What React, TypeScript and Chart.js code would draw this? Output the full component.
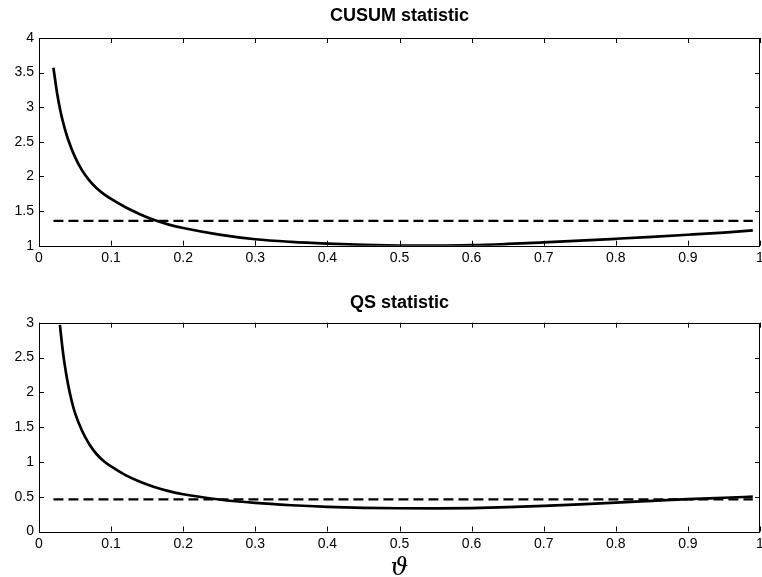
import React, { useEffect, useRef } from "react";
import { Chart, registerables } from "chart.js";

Chart.register(...registerables);

// ---- data ----
const cusumTitle = "CUSUM statistic";
const cusumTheta = [0.02, 0.025, 0.03, 0.035, 0.04, 0.05, 0.06, 0.07, 0.08, 0.09, 0.1, 0.12, 0.14, 0.16, 0.18, 0.2, 0.25, 0.3, 0.35, 0.4, 0.45, 0.5, 0.55, 0.6, 0.65, 0.7, 0.75, 0.8, 0.85, 0.9, 0.95, 0.99];
const cusumValues = [3.57, 3.21, 2.93, 2.72, 2.545, 2.28, 2.085, 1.94, 1.83, 1.745, 1.675, 1.555, 1.455, 1.37, 1.305, 1.255, 1.16, 1.093, 1.055, 1.03, 1.012, 1.002, 1.0, 1.007, 1.025, 1.048, 1.073, 1.1, 1.128, 1.158, 1.19, 1.22];
const cusumCritical = 1.358;

const qsTitle = "QS statistic";
const qsTheta = [0.029, 0.032, 0.035, 0.04, 0.045, 0.05, 0.06, 0.07, 0.08, 0.09, 0.1, 0.12, 0.14, 0.16, 0.18, 0.2, 0.25, 0.3, 0.35, 0.4, 0.45, 0.5, 0.55, 0.6, 0.65, 0.7, 0.75, 0.8, 0.85, 0.9, 0.95, 0.99];
const qsValues = [2.97, 2.68, 2.44, 2.13, 1.89, 1.7, 1.44, 1.25, 1.11, 1.01, 0.935, 0.81, 0.715, 0.64, 0.58, 0.535, 0.46, 0.41, 0.377, 0.354, 0.34, 0.334, 0.333, 0.337, 0.35, 0.368, 0.39, 0.414, 0.44, 0.465, 0.485, 0.5];
const qsCritical = 0.461;

const criticalThetaRange = [0.02, 0.99];
const xAxisRange = [0, 1];
const xTickStep = 0.1;
const cusumYRange = [1, 4];
const qsYRange = [0, 3];
const yTickStep = 0.5;
const xAxisLabel = "\u03D1";

const SANS = "'Liberation Sans', Arial, Helvetica, sans-serif";
const SERIF = "'DejaVu Serif', 'Liberation Serif', serif";

const fmt = (v: any) => String(Math.round(Number(v) * 100) / 100);

const frameAndTicks = {
  id: "frameAndTicks",
  afterDatasetsDraw(chart: any) {
    const { ctx, chartArea } = chart;
    const { left, right, top, bottom } = chartArea;
    const tl = 5;
    ctx.save();
    ctx.strokeStyle = "#000";
    ctx.lineWidth = 1;
    ctx.beginPath();
    const xs = chart.scales.x;
    xs.ticks.forEach((t: any) => {
      const p = Math.round(xs.getPixelForValue(t.value)) + 0.5;
      ctx.moveTo(p, bottom);
      ctx.lineTo(p, bottom - tl);
      ctx.moveTo(p, top);
      ctx.lineTo(p, top + tl);
    });
    const ys = chart.scales.y;
    ys.ticks.forEach((t: any) => {
      const p = Math.round(ys.getPixelForValue(t.value)) + 0.5;
      ctx.moveTo(left, p);
      ctx.lineTo(left + tl, p);
      ctx.moveTo(right, p);
      ctx.lineTo(right - tl, p);
    });
    ctx.stroke();
    ctx.strokeRect(Math.round(left) + 0.5, Math.round(top) + 0.5, Math.round(right - left) - 1, Math.round(bottom - top));
    ctx.restore();
  },
};

type PanelProps = {
  top: number;
  height: number;
  title: string;
  titlePadTop: number;
  titlePadBottom: number;
  theta: number[];
  values: number[];
  critical: number;
  yRange: number[];
  xScaleHeight: number;
  xTitle?: string;
};

function Panel(p: PanelProps) {
  const ref = useRef<HTMLCanvasElement>(null);
  useEffect(() => {
    if (!ref.current) return;
    const chart = new Chart(ref.current, {
      type: "line",
      data: {
        datasets: [
          {
            data: p.theta.map((x, i) => ({ x, y: p.values[i] })),
            borderColor: "#000",
            borderWidth: 2.7,
            pointRadius: 0,
            cubicInterpolationMode: "monotone",
            fill: false,
          },
          {
            data: criticalThetaRange.map((x) => ({ x, y: p.critical })),
            borderColor: "#000",
            borderWidth: 2.2,
            borderDash: [10, 5],
            pointRadius: 0,
            fill: false,
          },
        ],
      },
      options: {
        responsive: false,
        animation: false,
        events: [],
        layout: { padding: { left: 0, right: 2, top: 0, bottom: 0 } },
        plugins: {
          legend: { display: false },
          tooltip: { enabled: false },
          title: {
            display: true,
            text: p.title,
            fullSize: false,
            color: "#000",
            font: { family: SANS, size: 18, weight: "bold", lineHeight: 1.2 },
            padding: { top: p.titlePadTop, bottom: p.titlePadBottom },
          },
        },
        scales: {
          x: {
            type: "linear",
            min: xAxisRange[0],
            max: xAxisRange[1],
            grid: { display: false, drawTicks: false, drawOnChartArea: false },
            border: { display: false },
            ticks: {
              stepSize: xTickStep,
              color: "#000",
              font: { family: SANS, size: 14, lineHeight: 1.2 },
              padding: 4.5,
              maxRotation: 0,
              autoSkip: false,
              callback: fmt,
            },
            title: p.xTitle
              ? {
                  display: true,
                  text: p.xTitle,
                  color: "#000",
                  font: { family: SERIF, size: 25, style: "italic", lineHeight: 1.2 },
                  padding: { top: 0, bottom: 7 },
                }
              : { display: false },
            afterFit: (s: any) => {
              s.paddingLeft = 0;
              s.paddingRight = 0;
              s.height = p.xScaleHeight;
            },
          },
          y: {
            type: "linear",
            min: p.yRange[0],
            max: p.yRange[1],
            grid: { display: false, drawTicks: false, drawOnChartArea: false },
            border: { display: false },
            ticks: {
              stepSize: yTickStep,
              color: "#000",
              font: { family: SANS, size: 14, lineHeight: 1.2 },
              padding: 5,
              callback: fmt,
            },
            afterFit: (s: any) => {
              s.width = 39;
              s.paddingTop = 0;
              s.paddingBottom = 0;
            },
          },
        },
      },
      plugins: [frameAndTicks],
    } as any);
    return () => chart.destroy();
  }, []);
  return (
    <canvas
      ref={ref}
      width={762}
      height={p.height}
      style={{ position: "absolute", left: 0, top: p.top, display: "block" }}
    />
  );
}

export default function App() {
  return (
    <div
      style={{
        position: "absolute",
        left: 0,
        top: 0,
        width: 762,
        height: 577,
        overflow: "hidden",
        background: "#fff",
      }}
    >
      <Panel
        top={0}
        height={290}
        title={cusumTitle}
        titlePadTop={5}
        titlePadBottom={11.4}
        theta={cusumTheta}
        values={cusumValues}
        critical={cusumCritical}
        yRange={cusumYRange}
        xScaleHeight={44.3}
      />
      <Panel
        top={290}
        height={300}
        title={qsTitle}
        titlePadTop={2.2}
        titlePadBottom={8.9}
        theta={qsTheta}
        values={qsValues}
        critical={qsCritical}
        yRange={qsYRange}
        xScaleHeight={58.5}
        xTitle={xAxisLabel}
      />
    </div>
  );
}
